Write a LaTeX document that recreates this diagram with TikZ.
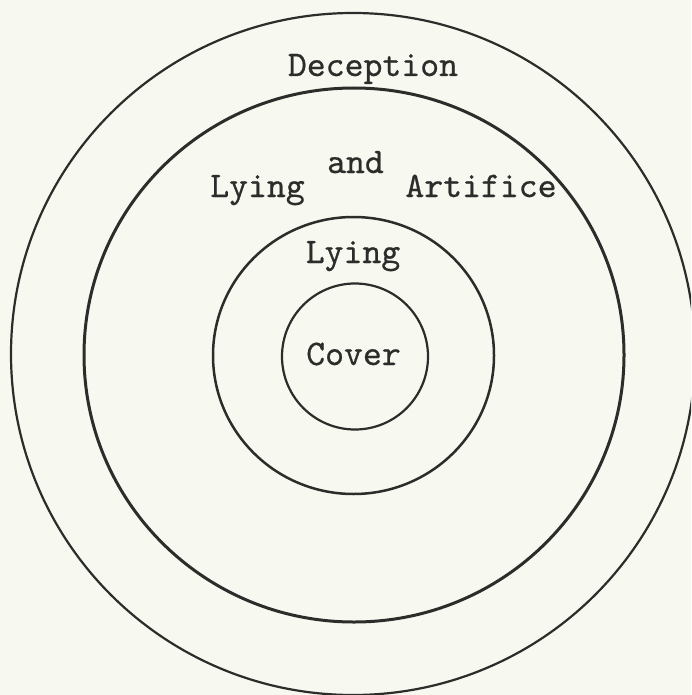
\documentclass[tikz,border=0pt]{standalone}
\usepackage{fontspec}
\newfontfamily\tw{lmmono10-regular.otf}[FakeBold=0.6]
\definecolor{paper}{RGB}{247,248,240}
\definecolor{ink}{RGB}{44,44,42}
\begin{document}
\begin{tikzpicture}[x=1pt,y=-1pt,
  ring/.style={draw=ink},
  lbl/.style={anchor=base,inner sep=0pt,text=ink,font=\fontsize{36}{40}\selectfont\tw}]
\useasboundingbox (0,0) rectangle (691,695);
\fill[paper] (0,0) rectangle (691,695);
\begin{scope}
\clip (0,0) rectangle (691,695);
\draw[ring,line width=2.2pt] (353,354) ellipse [x radius=342, y radius=341];
\end{scope}
\draw[ring,line width=3pt] (354,355) ellipse [x radius=270, y radius=267];
\draw[ring,line width=2.5pt] (353.5,355.5) ellipse [x radius=140.5, y radius=138.5];
\draw[ring,line width=2.2pt] (355,356.5) circle [radius=73];
\node[lbl] (deception) at (373,76) {Deception};
\node[lbl] (lying1) at (257.5,197) {Lying};
\node[lbl] (and) at (355.5,173) {and};
\node[lbl] (artifice) at (481,197) {Artifice};
\node[lbl] (lying2) at (353,263) {Lying};
\node[lbl] (cover) at (353.5,365) {Cover};
\end{tikzpicture}
\end{document}
